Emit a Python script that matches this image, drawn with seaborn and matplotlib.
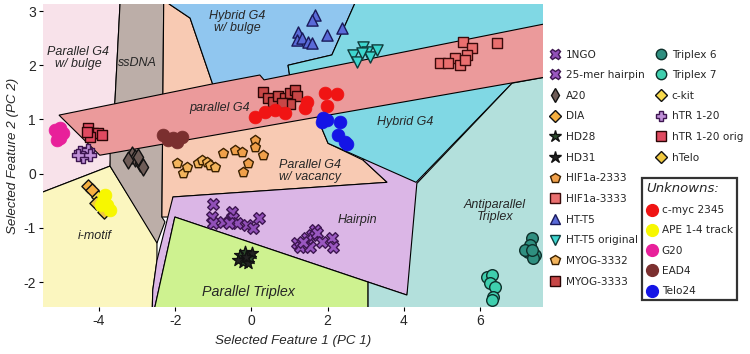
import numpy as np
import pandas as pd
import matplotlib
matplotlib.use("Agg")
import matplotlib.pyplot as plt
import seaborn as sns
from matplotlib.lines import Line2D

sns.set_theme(style="white")
plt.rcParams['font.family'] = ['DejaVu Sans']
plt.rcParams['axes.unicode_minus'] = False

# ---------------- decision regions (data coordinates) ----------------
region_bulge = [(-5.81, 3.39), (-3.43, 3.39), (-3.58, 1.36), (-3.71, 0.14), (-5.81, -0.43)]
region_imotif = [(-5.81, -0.43), (-3.71, 0.14), (-2.48, -1.25), (-2.48, -1.60), (-2.59, -2.15),
                 (-2.61, -2.70), (-5.81, -2.70)]
region_ssdna = [(-3.43, 3.39), (-2.30, 3.39), (-2.35, -0.80), (-2.27, -0.89), (-2.48, -1.28),
                (-3.71, 0.14), (-3.71, 0.43), (-3.58, 1.36)]
region_vacancy = [(-2.30, 3.39), (-2.16, 3.39), (-2.16, 3.13), (-1.61, 2.87), (-0.92, 1.45),
                  (1.67, 1.13), (2.01, 0.56), (2.93, 0.25), (3.56, -0.16), (-2.06, -0.43),
                  (-2.06, -0.80), (-2.35, -0.80)]
region_hyb_bulge = [(-2.16, 3.39), (2.87, 3.39), (2.11, 2.19), (0.96, 2.00), (1.06, 1.54),
                    (-0.92, 1.45), (-1.61, 2.87), (-2.16, 3.13)]
region_hairpin = [(-2.06, -0.43), (3.56, -0.16), (2.93, 0.25), (3.30, 0.60), (4.60, 0.00),
                  (4.08, -2.24), (-2.01, -0.80), (-2.61, -2.70), (-2.59, -2.15), (-2.48, -1.60)]
region_hybrid = [(2.87, 3.39), (8.10, 3.39), (8.10, 1.50), (6.84, 1.67), (4.32, -0.16),
                 (2.01, 0.56), (1.67, 1.13), (1.06, 1.54), (0.96, 2.00), (2.11, 2.19)]
region_par_triplex = [(-2.01, -0.80), (3.06, -2.00), (3.06, -2.70), (-2.61, -2.70)]
region_anti_triplex = [(3.06, -2.70), (3.06, -2.00), (4.08, -2.24), (4.34, -0.18), (6.84, 1.67),
                       (8.10, 1.83), (8.10, -2.70)]
region_parallel = [(-5.05, 1.08), (-1.06, 1.65), (0.22, 1.82), (0.33, 1.73), (8.10, 2.82),
                   (8.10, 1.83), (-3.98, 0.34)]

regions = [
    (region_bulge, "#f8e2ea"), (region_imotif, "#fbf6bf"), (region_ssdna, "#bcaea8"),
    (region_vacancy, "#f8cab3"), (region_hyb_bulge, "#90c6ef"), (region_hairpin, "#dbb6e6"),
    (region_hybrid, "#80d8e4"), (region_par_triplex, "#cef290"), (region_anti_triplex, "#b3e0dc"),
    (region_parallel, "#eb9a9b"),
]

region_labels = ["Parallel G4\nw/ bulge", "ssDNA", "Hybrid G4\nw/ bulge", "parallel G4",
                 "Hybrid G4", "Parallel G4\nw/ vacancy", "Hairpin", "Antiparallel\nTriplex",
                 "i-motif", "Parallel Triplex"]
region_label_x = [-4.55, -3.00, -0.38, -0.83, 4.03, 1.54, 2.77, 6.39, -4.10, -0.09]
region_label_y = [2.13, 2.04, 2.80, 1.21, 0.95, 0.05, -0.86, -0.69, -1.15, -2.19]
region_label_size = [9, 9, 9, 9, 9, 9, 9, 9, 9, 10.3]

# ---------------- known samples ----------------
ngo_x = [-1.01, -1.04, -1.01, -0.75, -0.51, -0.49, -0.38, -0.12, 0.04, 0.20, -0.59]
ngo_y = [-0.56, -0.80, -0.91, -0.89, -0.71, -0.82, -0.91, -0.95, -1.00, -0.82, -0.91]
hairpin_x = [1.19, 1.27, 1.46, 1.59, 1.67, 1.72, 1.85, 1.54, 2.11, 2.14, 1.35]
hairpin_y = [-1.28, -1.36, -1.19, -1.13, -1.04, -1.10, -1.26, -1.36, -1.19, -1.36, -1.26]
a20_x = [-3.14, -3.06, -2.93, -2.85, -2.98, -3.24]
a20_y = [0.34, 0.29, 0.19, 0.12, 0.30, 0.25]
dia_x = [-4.29, -4.19]
dia_y = [-0.23, -0.30]
hd28_x = [-0.30, -0.17, -0.04, -0.22]
hd28_y = [-1.50, -1.45, -1.56, -1.63]
hd31_x = [-0.09, -0.35, 0.01, -0.14]
hd31_y = [-1.65, -1.60, -1.47, -1.54]
hif2333_x = [-0.75, -0.43, -0.25, 0.09, 0.09, 0.30, -0.09, -0.22]
hif2333_y = [0.38, 0.43, 0.40, 0.62, 0.49, 0.34, 0.19, 0.03]
hif3333_x = [5.55, 5.79, 6.44, 5.66, 5.34, 4.95, 5.16, 5.47, 5.60]
hif3333_y = [2.43, 2.32, 2.41, 2.19, 2.13, 2.04, 2.04, 2.00, 2.09]
htt5_x = [1.67, 1.59, 1.22, 1.19, 1.33, 1.48, 1.59, 1.98, 2.38]
htt5_y = [2.92, 2.83, 2.61, 2.46, 2.50, 2.43, 2.41, 2.56, 2.68]
htt5o_x = [2.66, 2.77, 2.93, 3.03, 3.11, 3.29, 2.90]
htt5o_y = [2.19, 2.06, 2.33, 2.24, 2.15, 2.28, 2.22]
myog3332_x = [-1.96, -1.80, -1.69, -1.40, -1.30, -1.17, -1.09, -0.96]
myog3332_y = [0.19, 0.01, 0.12, 0.19, 0.25, 0.21, 0.16, 0.12]
myog3333_x = [0.30, 0.43, 0.56, 0.70, 0.88, 1.01, 1.14, 1.19, 1.01, 0.80]
myog3333_y = [1.50, 1.39, 1.32, 1.43, 1.39, 1.49, 1.54, 1.43, 1.28, 1.30]
trip6_x = [7.36, 7.31, 7.26, 7.18, 7.44, 7.39, 7.36]
trip6_y = [-1.19, -1.32, -1.45, -1.41, -1.50, -1.56, -1.41]
trip7_x = [6.18, 6.31, 6.26, 6.39, 6.34, 6.31]
trip7_y = [-1.91, -1.87, -2.02, -2.09, -2.28, -2.33]
ckit_x = [-4.03, -3.92]
ckit_y = [-0.43, -0.58]
htr_x = [-4.50, -4.37, -4.29, -4.42, -4.24, -4.55]
htr_y = [0.40, 0.38, 0.43, 0.30, 0.34, 0.34]
htro_x = [-4.29, -4.16, -4.03, -4.24, -4.32, -3.92]
htro_y = [0.84, 0.75, 0.75, 0.67, 0.77, 0.71]
htelo_x = [-4.08, -3.87]
htelo_y = [-0.54, -0.71]

# ---------------- unknowns ----------------
cmyc_x = [0.09, 0.35, 0.62, 0.88, 1.40, 1.46, 1.93, 2.24, 1.98]
cmyc_y = [1.04, 1.13, 1.17, 1.12, 1.21, 1.32, 1.49, 1.47, 1.25]
ape_x = [-3.90, -3.79, -3.71, -3.84, -3.95]
ape_y = [-0.49, -0.58, -0.67, -0.40, -0.58]
g20_x = [-5.16, -5.03, -5.08, -4.95, -5.11, -5.03]
g20_y = [0.80, 0.84, 0.71, 0.75, 0.62, 0.65]
ead4_x = [-2.32, -2.06, -1.82, -1.96, -2.19]
ead4_y = [0.71, 0.65, 0.67, 0.58, 0.62]
telo24_x = [1.88, 1.85, 2.32, 2.27, 2.45, 2.51, 1.98]
telo24_y = [1.02, 0.95, 0.95, 0.71, 0.58, 0.54, 0.99]

x_ticks = [-4, -2, 0, 2, 4, 6]
y_ticks = [-2, -1, 0, 1, 2, 3]

# name, x, y, marker, face, edge, size
known = [
    ("1NGO", ngo_x, ngo_y, "X", "#9150b8", "#3d1650", 70),
    ("25-mer hairpin", hairpin_x, hairpin_y, "X", "#9a58c0", "#3d1650", 70),
    ("A20", a20_x, a20_y, "d", "#6e5c57", "#111111", 75),
    ("DIA", dia_x, dia_y, "D", "#f5b041", "#111111", 45),
    ("HD28", hd28_x, hd28_y, "*", "#2e4d2e", "#111111", 80),
    ("HD31", hd31_x, hd31_y, "*", "#222222", "#111111", 80),
    ("HIF1a-2333", hif2333_x, hif2333_y, "p", "#f0a04a", "#3a2000", 55),
    ("HIF1a-3333", hif3333_x, hif3333_y, "s", "#ea6f6f", "#3a0a0a", 60),
    ("HT-T5", htt5_x, htt5_y, "^", "#5a6ad8", "#1a1a5a", 65),
    ("HT-T5 original", htt5o_x, htt5o_y, "v", "#3ed6cf", "#0f3b3b", 65),
    ("MYOG-3332", myog3332_x, myog3332_y, "p", "#f3b45c", "#3a2000", 55),
    ("MYOG-3333", myog3333_x, myog3333_y, "s", "#c84646", "#2a0505", 60),
    ("Triplex 6", trip6_x, trip6_y, "o", "#2f8f80", "#0d2f2a", 70),
    ("Triplex 7", trip7_x, trip7_y, "o", "#3fcfae", "#0d2f2a", 70),
    ("c-kit", ckit_x, ckit_y, "D", "#f7d94c", "#111111", 45),
    ("hTR 1-20", htr_x, htr_y, "P", "#c090d8", "#3d1650", 65),
    ("hTR 1-20 orig", htro_x, htro_y, "s", "#e04a60", "#2a0505", 60),
    ("hTelo", htelo_x, htelo_y, "D", "#f0c840", "#111111", 45),
]
unknown = [
    ("c-myc 2345", cmyc_x, cmyc_y, "#f01414"),
    ("APE 1-4 track", ape_x, ape_y, "#f7f700"),
    ("G20", g20_x, g20_y, "#e8209a"),
    ("EAD4", ead4_x, ead4_y, "#7b2f2f"),
    ("Telo24", telo24_x, telo24_y, "#1414e6"),
]

fig = plt.figure(figsize=(7.5, 3.54), dpi=100)
ax = fig.add_axes([43 / 750, 1 - 307 / 354, 500 / 750, 303 / 354])

for poly, col in regions:
    xs = [p[0] for p in poly]
    ys = [p[1] for p in poly]
    ax.fill(xs, ys, facecolor=col, edgecolor="black", linewidth=0.8, zorder=0.5)

for lab, lx, ly, fs in zip(region_labels, region_label_x, region_label_y, region_label_size):
    ax.text(lx, ly, lab, ha="center", va="center", fontsize=fs, style="italic",
            family="Liberation Sans", linespacing=1.0, zorder=1)

for name, xs, ys, m, fc, ec, s in known:
    df = pd.DataFrame({"x": xs, "y": ys})
    sns.scatterplot(data=df, x="x", y="y", marker=m, color=fc, edgecolor=ec, linewidth=1.0,
                    s=s, ax=ax, legend=False, zorder=3)

for name, xs, ys, c in unknown:
    df = pd.DataFrame({"x": xs, "y": ys})
    sns.scatterplot(data=df, x="x", y="y", marker="o", color=c, edgecolor=c, linewidth=0.5,
                    s=85, ax=ax, legend=False, zorder=4)

ax.set_xlim(-5.47, 7.65)
ax.set_ylim(-2.46, 3.13)
ax.set_xticks(x_ticks)
ax.set_yticks(y_ticks)
ax.set_xticklabels([str(v) for v in x_ticks], family="Liberation Sans", fontsize=10)
ax.set_yticklabels([str(v) for v in y_ticks], family="Liberation Sans", fontsize=10)
for sp in ax.spines.values():
    sp.set_visible(False)
ax.tick_params(axis="both", which="both", direction="out", length=3, width=0.8,
               color="black", pad=2, bottom=True, left=True)
ax.set_xlabel("Selected Feature 1 (PC 1)", fontsize=9.6, style="italic",
              family="Liberation Sans", labelpad=5)
ax.set_ylabel("Selected Feature 2 (PC 2)", fontsize=9.6, style="italic",
              family="Liberation Sans", labelpad=3)
ax.grid(False)

def handle(name, m, fc, ec, ms=7.5):
    return Line2D([], [], linestyle="none", marker=m, markerfacecolor=fc,
                  markeredgecolor=ec, markeredgewidth=1.0, markersize=ms, label=name)

hs = []
for name, xs, ys, m, fc, ec, s in known:
    ms = 7.5
    if m == "D":
        ms = 6.5
    if m == "*":
        ms = 9
    hs.append(handle(name, m, fc, ec, ms))
col1 = hs[:12]
col2 = hs[12:]

LFS = 7.6
LSP = 1.01
leg1 = fig.legend(handles=col1, loc="upper left", bbox_to_anchor=(549.5 / 750, 1 - 49.5 / 354),
                  frameon=False, fontsize=LFS, labelspacing=LSP, handlelength=1.05,
                  handletextpad=0.5, borderpad=0, borderaxespad=0)
leg2 = fig.legend(handles=col2, loc="upper left", bbox_to_anchor=(655.5 / 750, 1 - 49.5 / 354),
                  frameon=False, fontsize=LFS, labelspacing=LSP, handlelength=1.05,
                  handletextpad=0.5, borderpad=0, borderaxespad=0)
uh = [Line2D([], [], linestyle="none", marker="o", markerfacecolor=c, markeredgecolor=c,
             markersize=8.5, label=name) for name, xs, ys, c in unknown]
leg3 = fig.legend(handles=uh, loc="upper left", bbox_to_anchor=(642 / 750, 1 - 178 / 354),
                  frameon=True, fontsize=LFS, labelspacing=0.97, handlelength=1.05,
                  handletextpad=0.45, borderpad=0.38, borderaxespad=0, title="Unknowns:",
                  title_fontproperties={"size": 9.5, "style": "italic"}, fancybox=False,
                  edgecolor="black")
leg3.get_frame().set_linewidth(1.6)
leg3._legend_box.align = "left"

fig.savefig("out.png", dpi=100)
